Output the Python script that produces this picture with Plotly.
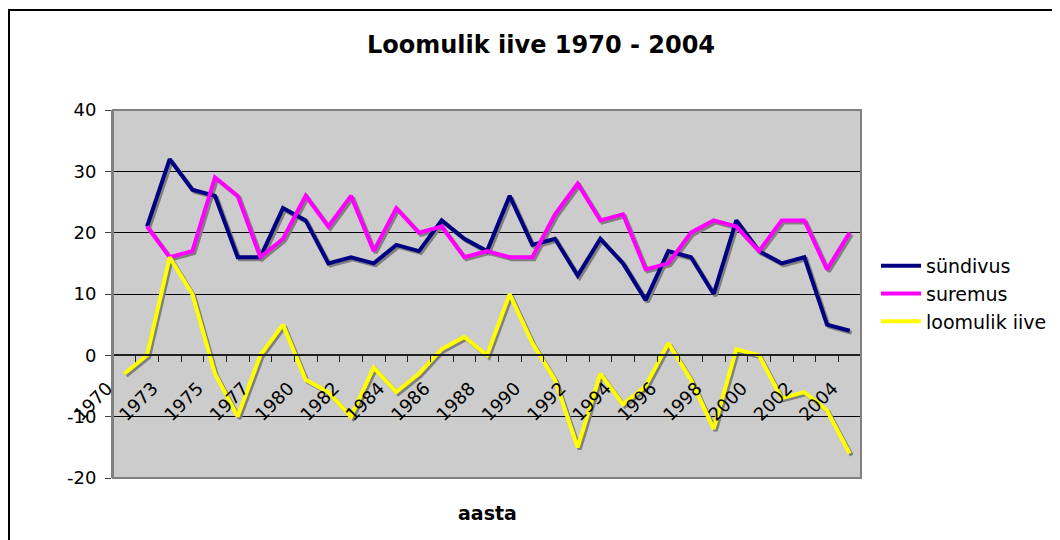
import plotly.graph_objects as go

years = ["1970", "1972", "1973", "1974", "1975", "1976", "1977", "1979", "1980",
         "1981", "1982", "1983", "1984", "1985", "1986", "1987", "1988", "1989",
         "1990", "1991", "1992", "1993", "1994", "1995", "1996", "1997", "1998",
         "1999", "2000", "2001", "2002", "2003", "2004"]
syndivus = [None, 21, 32, 27, 26, 16, 16, 24, 22, 15, 16, 15, 18, 17, 22, 19, 17,
            26, 18, 19, 13, 19, 15, 9, 17, 16, 10, 22, 17, 15, 16, 5, 4]
suremus = [None, 21, 16, 17, 29, 26, 16, 19, 26, 21, 26, 17, 24, 20, 21, 16, 17,
           16, 16, 23, 28, 22, 23, 14, 15, 20, 22, 21, 17, 22, 22, 14, 20]
loomulik_iive = [-3, 0, 16, 10, -3, -10, 0, 5, -4, -6, -10, -2, -6, -3, 1, 3, 0,
                 10, 2, -4, -15, -3, -8, -5, 2, -4, -12, 1, 0, -7, -6, -9, -16]
y_ticks = [-20, -10, 0, 10, 20, 30, 40]
y_ticktext = ["-20", "-10", "0", "10", "20", "30", "40"]

series_names = ["sündivus", "suremus", "loomulik iive"]
series_colors = ["#000080", "#FF00FF", "#FFFF00"]
series_data = [syndivus, suremus, loomulik_iive]

# page body has an 8px margin, so the figure is drawn 8px to the right/down
OFF = 8
W, H = 1060, 540 - OFF
PX0, PX1 = 113 - OFF, 861 - OFF      # plot area, figure pixels
PY0, PY1 = 110 - OFF, 478 - OFF
LM = 80                               # paper left edge (room for label axis)
R = W - PX1
T = PY0
B = H - PY1
paper_w = W - LM - R
paper_h = H - T - B


def fx(px):
    return (px - LM) / paper_w


def fy(py):
    return (H - B - py) / paper_h


n = len(years)
ymin, ymax = -20, 40
cw = (PX1 - PX0) / n
dx = 2.0 / cw
dy = -2.0 / ((PY1 - PY0) / (ymax - ymin))

xs = list(range(n))
fig = go.Figure()

# shadows
for data in series_data:
    fig.add_trace(go.Scatter(
        x=[x + dx for x in xs],
        y=[None if v is None else v + dy for v in data],
        mode="lines", line=dict(color="#808080", width=4),
        showlegend=False, hoverinfo="skip"))

for name, color, data in zip(series_names, series_colors, series_data):
    fig.add_trace(go.Scatter(x=xs, y=data, name=name, mode="lines",
                             line=dict(color=color, width=4)))

# empty trace so the category-label axis (own subplot) is drawn
fig.add_trace(go.Scatter(x=[], y=[], xaxis="x2", yaxis="y2", mode="lines",
                         showlegend=False, hoverinfo="skip"))

font_family = "Verdana, DejaVu Sans, sans-serif"
label_shift = -0.75
a2 = -((PX0 - LM) / cw + 0.5 + label_shift)
x_pos = (0 - ymin) / (ymax - ymin)

fig.update_layout(
    width=W, height=H,
    margin=dict(l=LM, r=R, t=T, b=B, pad=0, autoexpand=False),
    paper_bgcolor="white",
    plot_bgcolor="rgba(0,0,0,0)",
    font=dict(family=font_family, size=18, color="black"),
    title=dict(text="<b>Loomulik iive 1970 - 2004</b>",
               x=(541 - OFF) / W, xanchor="center",
               y=1 - (45 - OFF) / H, yanchor="middle",
               font=dict(size=24, family=font_family)),
    legend=dict(x=fx(PX1 + 15), xanchor="left", y=0.5,
                yanchor="middle",
                font=dict(size=19), tracegroupgap=0, itemwidth=40,
                bgcolor="rgba(0,0,0,0)"),
    xaxis=dict(
        domain=[fx(PX0), fx(PX1)],
        range=[-0.5, n - 0.5],
        showticklabels=False,
        ticks="", showgrid=False, zeroline=False,
        showline=True, linecolor="#202020", linewidth=2,
        anchor="free", position=x_pos,
        minor=dict(tickmode="array", tickvals=[i + 0.5 for i in range(-1, n)],
                   ticks="outside", ticklen=6, tickcolor="#202020", showgrid=False),
    ),
    xaxis2=dict(
        domain=[0, fx(PX1)],
        range=[a2, a2 + (PX1 - LM) / cw],
        tickmode="array",
        tickvals=list(range(0, n, 2)),
        ticktext=[years[i] for i in range(0, n, 2)],
        tickangle=-45,
        ticks="", ticklabelstandoff=18,
        tickfont=dict(size=18),
        showgrid=False, zeroline=False, showline=False,
        anchor="free", position=x_pos,
    ),
    yaxis2=dict(domain=[0, 1], anchor="x2", range=[ymin, ymax], visible=False,
                showgrid=False, zeroline=False),
    yaxis=dict(
        domain=[0, 1],
        anchor="x",
        range=[ymin, ymax],
        tickmode="array", tickvals=y_ticks, ticktext=y_ticktext,
        ticks="outside", ticklen=6, tickcolor="#404040",
        ticklabelstandoff=5,
        tickfont=dict(size=18),
        showgrid=True, gridcolor="black", gridwidth=1,
        zeroline=False,
        showline=True, linecolor="#808080", linewidth=2,
    ),
    annotations=[dict(text="<b>aasta</b>", x=fx((PX0 + PX1) / 2), y=fy(505),
                      xref="paper", yref="paper", showarrow=False,
                      xanchor="center", yanchor="middle",
                      font=dict(size=19, family=font_family))],
    shapes=[
        dict(type="rect", xref="paper", yref="paper",
             x0=fx(PX0), x1=fx(PX1), y0=0, y1=1,
             fillcolor="#CCCCCC", line=dict(width=0), layer="below"),
        dict(type="rect", xref="paper", yref="paper",
             x0=fx(PX0), x1=fx(PX1), y0=0, y1=1,
             line=dict(color="#808080", width=2), layer="above"),
        dict(type="rect", xref="paper", yref="paper",
             x0=fx(1), x1=fx(W + 20), y0=fy(H + 20), y1=fy(2),
             line=dict(color="black", width=2)),
    ],
)

fig.write_html("out.html")
